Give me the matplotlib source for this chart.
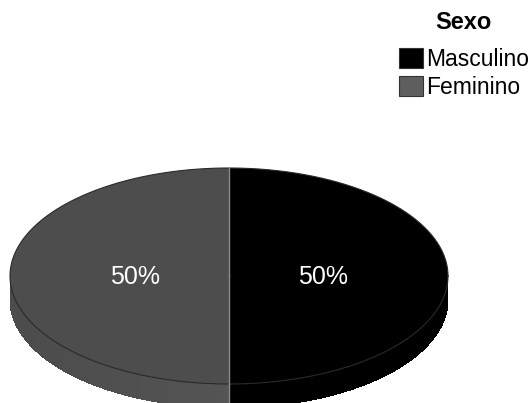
import numpy as np
import matplotlib
matplotlib.use("Agg")
import matplotlib.pyplot as plt
from matplotlib.patches import Polygon, Patch

plt.rcParams['font.family'] = ['Liberation Sans', 'DejaVu Sans']

# Data
categories = ["Masculino", "Feminino"]
values = [50, 50]
labels = ["50%", "50%"]
colors = ["#000000", "#4d4d4d"]
legend_colors = ["#000000", "#5e5e5e"]
legend_title = "Sexo"

W, H = 529, 403
fig = plt.figure(figsize=(W / 100, H / 100), dpi=100)
ax = fig.add_axes([0, 0, 1, 1])
ax.set_xlim(0, W)
ax.set_ylim(H, 0)
ax.axis("off")

# Ellipse geometry of the tilted pie (pixel units)
cx, cy, rx, ry, depth = 229, 276, 219, 108, 24


def pt(theta_deg, dy=0.0):
    t = np.radians(theta_deg)
    return cx + rx * np.cos(t), cy - ry * np.sin(t) + dy


def side_color(base, theta):
    # lighten the rim toward the front for a simple shading effect
    rgb = np.array(matplotlib.colors.to_rgb(base))
    if rgb.max() < 0.05:
        return base
    f = 0.5 * (1 - np.cos(np.radians(theta - 180)))  # 0 at left, 1 at front
    shade = np.clip(rgb * (0.98 + 0.22 * f), 0, 1)
    return shade


total = float(sum(values))
start = 90.0
spans = []
for v in values:
    ext = 360.0 * v / total
    spans.append((start - ext, start))  # clockwise
    start -= ext

# Side walls (front half only: angles between 180 and 360)
for (a0, a1), col in zip(spans, colors):
    thetas = np.linspace(a0, a1, 400)
    thetas_n = np.mod(thetas, 360)
    mask = (thetas_n >= 180) & (thetas_n <= 360)
    if not mask.any():
        continue
    sel = np.sort(thetas[mask])
    for i in range(len(sel) - 1):
        t0, t1 = sel[i], sel[i + 1]
        p0, p1 = pt(t0), pt(t1)
        q1, q0 = pt(t1, depth), pt(t0, depth)
        ax.add_patch(Polygon([p0, p1, q1, q0], closed=True,
                             facecolor=side_color(col, np.mod(0.5 * (t0 + t1), 360)),
                             edgecolor="none", antialiased=False, zorder=1))

# Top faces
for (a0, a1), col in zip(spans, colors):
    thetas = np.linspace(a0, a1, 300)
    xs, ys = pt(thetas)
    verts = [(cx, cy)] + list(zip(xs, ys))
    ax.add_patch(Polygon(verts, closed=True, facecolor=col,
                         edgecolor="none", zorder=2))

# Outline of the top rim and dividing lines
tt = np.linspace(0, 360, 600)
ex, ey = pt(tt)
ax.plot(ex, ey, color="#2a2a2a", lw=0.8, zorder=3)
for (a0, a1) in spans:
    bx, by = pt(a1)
    ax.plot([cx, bx], [cy, by], color="#8a8a8a", lw=1.0, zorder=4)
bx, by = pt(-90)
ax.plot([bx, bx], [by, by + depth], color="#8a8a8a", lw=1.0, zorder=4)

# Percentage labels
for (a0, a1), lab in zip(spans, labels):
    mid = 0.5 * (a0 + a1)
    lx = cx + 0.43 * rx * np.cos(np.radians(mid))
    ly = cy - 0.43 * ry * np.sin(np.radians(mid))
    ax.text(lx, ly + 1, lab, color="white", fontsize=18,
            ha="center", va="center", zorder=5)

# Legend
handles = [Patch(facecolor=c, edgecolor="#333333", linewidth=0.8)
           for c in legend_colors]
leg = ax.legend(handles, categories, title=legend_title,
                loc="upper right", bbox_to_anchor=(1.0, 1.0 - 11 / H),
                bbox_transform=fig.transFigure, frameon=False,
                fontsize=16.5, handlelength=1.08, handleheight=0.95,
                handletextpad=0.12, labelspacing=0.22, borderpad=0.0,
                borderaxespad=0.0,
                title_fontproperties={"weight": "bold", "size": 17})
leg._legend_box.align = "center"
leg._legend_box.sep = 10

fig.savefig("out.png", dpi=100)
